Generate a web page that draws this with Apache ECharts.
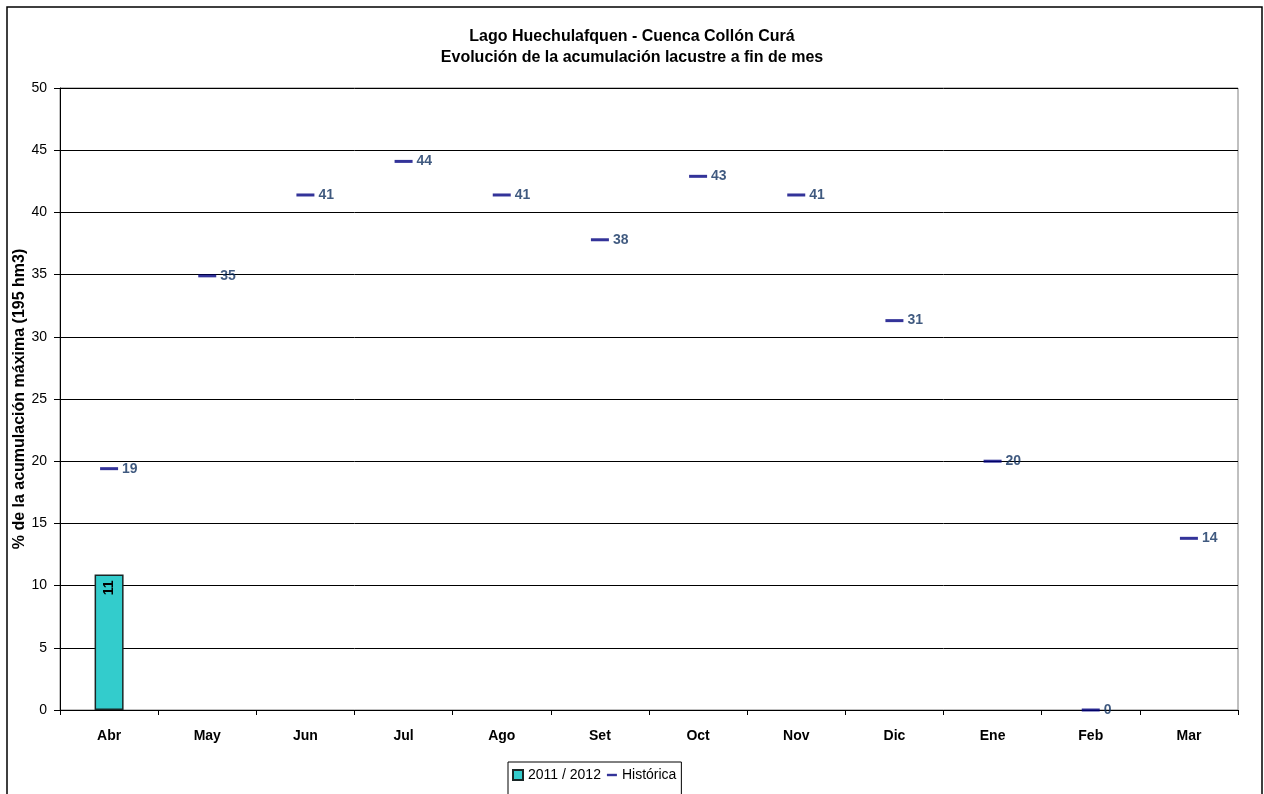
<!DOCTYPE html>
<html>
<head>
<meta charset="utf-8">
<script src="https://cdn.jsdelivr.net/npm/echarts@6/dist/echarts.min.js"></script>
<style>
  html, body { margin: 0; padding: 0; background: #fff; }
  #chart { width: 1264px; height: 794px; }
</style>
</head>
<body>
<div id="chart"></div>
<script>
// Months of the hydrological year (April to March)
const months = ['Abr', 'May', 'Jun', 'Jul', 'Ago', 'Set', 'Oct', 'Nov', 'Dic', 'Ene', 'Feb', 'Mar'];
// Current season 2011/2012 (% of maximum storage), only April so far
const season2011 = [10.9, null, null, null, null, null, null, null, null, null, null, null];
// Historical end-of-month storage (% of maximum storage)
const historica = [19.4, 34.9, 41.4, 44.1, 41.4, 37.8, 42.9, 41.4, 31.3, 20.0, 0, 13.8];
// Y axis scale
const yMin = 0, yMax = 50, yStep = 5;

const chart = echarts.init(document.getElementById('chart'));
const font = 'Arial, "Liberation Sans", sans-serif';

chart.setOption({
  animation: false,
  backgroundColor: '#fff',
  graphic: [{
    type: 'rect',
    shape: { x: 7, y: 7, width: 1255, height: 820 },
    style: { fill: 'none', stroke: '#000', lineWidth: 1.5 },
    silent: true
  }],
  title: {
    text: 'Lago Huechulafquen - Cuenca Collón Curá\nEvolución de la acumulación lacustre a fin de mes',
    left: 'center',
    top: 21,
    textStyle: { fontFamily: font, fontSize: 16, fontWeight: 'bold', color: '#000', lineHeight: 21 }
  },
  legend: {
    left: 508,
    top: 762,
    padding: [6, 5, 30, 4],
    borderColor: '#000',
    borderWidth: 1,
    itemGap: 6,
    itemWidth: 10,
    itemHeight: 10,
    textStyle: { fontFamily: font, fontSize: 14, color: '#000' },
    data: [
      { name: '2011 / 2012', icon: 'rect' },
      { name: 'Histórica', icon: 'path://M0,0 H10 V2.4 H0 Z' }
    ]
  },
  grid: {
    left: 60, right: 26, top: 88, bottom: 84,
    containLabel: false,
    outerBoundsMode: 'none',
    show: true, borderColor: '#808080', borderWidth: 1, backgroundColor: '#fff'
  },
  xAxis: {
    type: 'category',
    data: months,
    boundaryGap: true,
    axisLine: { lineStyle: { color: '#000', width: 1 } },
    axisTick: { show: true, length: 5, lineStyle: { color: '#000' } },
    axisLabel: { fontFamily: font, fontSize: 14, fontWeight: 'bold', color: '#000', margin: 19 }
  },
  yAxis: {
    type: 'value',
    min: yMin, max: yMax, interval: yStep,
    name: '% de la acumulación máxima (195 hm3)',
    nameLocation: 'middle',
    nameGap: 32,
    nameMoveOverlap: false,
    nameTextStyle: { fontFamily: font, fontSize: 16, fontWeight: 'bold', color: '#000' },
    axisLine: { show: true, lineStyle: { color: '#000', width: 1 } },
    axisTick: { show: true, length: 6, lineStyle: { color: '#000' } },
    axisLabel: { fontFamily: font, fontSize: 14, color: '#000', margin: 13 },
    splitLine: { show: true, lineStyle: { color: '#000', width: 1 } }
  },
  series: [
    {
      name: '2011 / 2012',
      type: 'bar',
      data: season2011,
      barWidth: 29,
      itemStyle: { color: '#33CCCC', borderColor: '#1a2626', borderWidth: 1.5 },
      label: {
        show: true,
        position: 'insideTop',
        rotate: 90,
        align: 'right',
        verticalAlign: 'middle',
        distance: 6,
        fontFamily: font, fontSize: 14, fontWeight: 'bold', color: '#000',
        formatter: p => Math.round(p.value)
      },
      z: 3
    },
    {
      name: 'Histórica',
      type: 'scatter',
      data: historica,
      symbol: 'rect',
      symbolSize: [18, 3],
      itemStyle: { color: '#000080' },
      label: {
        show: true,
        position: 'right',
        distance: 4,
        fontFamily: font, fontSize: 14, fontWeight: 'bold', color: '#0F2F5F',
        formatter: p => Math.round(p.value)
      },
      z: 4
    }
  ]
});
</script>
</body>
</html>
